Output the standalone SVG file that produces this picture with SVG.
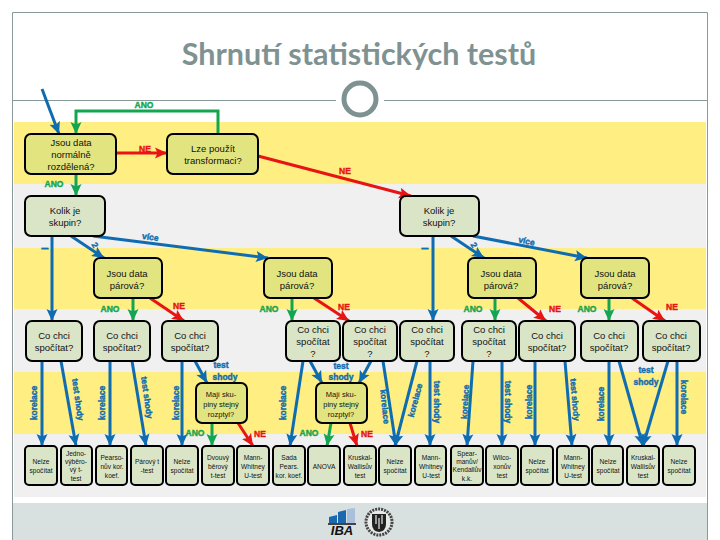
<svg xmlns="http://www.w3.org/2000/svg" width="720" height="540" viewBox="0 0 720 540">
<style>
.bl{stroke:#0f6cb0;stroke-width:3;fill:none;marker-end:url(#ab)}
.gr{stroke:#14a550;stroke-width:3;fill:none;marker-end:url(#ag)}
.rd{stroke:#e81414;stroke-width:3;fill:none;marker-end:url(#ar)}
.y{fill:#e2e57f;stroke:#000;stroke-width:2}
.g{fill:#dae5c8;stroke:#000;stroke-width:2}
text{font-family:"Liberation Sans",Arial,sans-serif;text-anchor:middle;fill:#111}
.t{font-size:9.5px}
.s{font-size:6.6px}
.m{font-size:7.5px}
.lb,.lg,.lr{font-size:8.5px;font-weight:bold;stroke-width:.4px}
.lb{fill:#0f6cb0;stroke:#0f6cb0}
.lg{fill:#14a550;stroke:#14a550}
.lr{fill:#e81414;stroke:#e81414}
.dash{font-size:14px}
</style>
<defs>
<marker id="ab" markerUnits="userSpaceOnUse" markerWidth="12" markerHeight="12" viewBox="0 0 12 12" refX="12" refY="6" orient="auto"><path d="M0,0.5L12,6L0,11.5L2.5,6z" fill="#0f6cb0"/></marker>
<marker id="ag" markerUnits="userSpaceOnUse" markerWidth="12" markerHeight="12" viewBox="0 0 12 12" refX="12" refY="6" orient="auto"><path d="M0,0.5L12,6L0,11.5L2.5,6z" fill="#14a550"/></marker>
<marker id="ar" markerUnits="userSpaceOnUse" markerWidth="12" markerHeight="12" viewBox="0 0 12 12" refX="12" refY="6" orient="auto"><path d="M0,0.5L12,6L0,11.5L2.5,6z" fill="#e81414"/></marker>
</defs>
<rect width="720" height="540" fill="#fff"/>
<g id="background">
<rect x="14" y="122" width="692" height="62" fill="#ffee82"/>
<rect x="14" y="184" width="692" height="64" fill="#f0f0f0"/>
<rect x="14" y="248" width="692" height="61" fill="#ffee82"/>
<rect x="14" y="309" width="692" height="63" fill="#f0f0f0"/>
<rect x="14" y="372" width="692" height="62" fill="#ffee82"/>
<rect x="14" y="434" width="692" height="63" fill="#f0f0f0"/>
<rect x="13" y="503" width="694" height="37" fill="#d8e0e0"/>
<path d="M12.5,540V12.5H707.5V540" fill="none" stroke="#8a9a9a" stroke-width="1"/>
<path d="M13,100.500H336M384,100.500H707" stroke="#8a9a9a" stroke-width="1"/>
<circle cx="360" cy="99" r="16" fill="#fff" stroke="#7f9292" stroke-width="5"/>
<text x="359" y="65" style="font-family:Lato,'Open Sans',sans-serif;font-size:30.500px;font-weight:700;fill:#7f9292">Shrnutí statistických testů</text>
</g>
<g id="connectors">
<path class="bl" d="M42,89L59,134"/>
<path class="gr" d="M218,134V111H76V134"/>
<path class="rd" d="M116,153H167"/>
<path class="rd" d="M258,156L411,196"/>
<path class="gr" d="M76,174V196"/>
<path class="bl" d="M52,236V321"/>
<path class="bl" d="M71,236L104,258"/>
<path class="bl" d="M93,236L268,258"/>
<path class="bl" d="M433,236V321"/>
<path class="bl" d="M451,236L484,258"/>
<path class="bl" d="M473,236L587,258"/>
<path class="gr" d="M133,298V321"/>
<path class="rd" d="M150,298L184,321"/>
<path class="gr" d="M292,298V321"/>
<path class="rd" d="M314,298L349,321"/>
<path class="gr" d="M495,298V321"/>
<path class="rd" d="M518,298L546,321"/>
<path class="gr" d="M609,298V321"/>
<path class="rd" d="M632,298L665,321"/>
<path class="bl" d="M42,361V446"/>
<path class="bl" d="M61,361L76,446"/>
<path class="bl" d="M110,361V446"/>
<path class="bl" d="M132,361L146,446"/>
<path class="bl" d="M182,361V446"/>
<path class="bl" d="M195,361L207,383"/>
<path class="bl" d="M303,361L290,446"/>
<path class="bl" d="M310,361L322,383"/>
<path class="bl" d="M371,361L359,383"/>
<path class="bl" d="M383,361L396,446"/>
<path class="bl" d="M417,361L395,446"/>
<path class="bl" d="M430,361V446"/>
<path class="bl" d="M473,361L467,446"/>
<path class="bl" d="M502,361V446"/>
<path class="bl" d="M535,361V446"/>
<path class="bl" d="M565,361L572,446"/>
<path class="bl" d="M609,361V446"/>
<path class="bl" d="M619,361L643,446"/>
<path class="bl" d="M668,361L643,446"/>
<path class="bl" d="M677,361V446"/>
<path class="gr" d="M212,423V446"/>
<path class="rd" d="M238,423L253,446"/>
<path class="gr" d="M331,423L327,446"/>
<path class="rd" d="M350,423L357,446"/>
</g>
<g id="n1"><rect class="y" x="25" y="134" width="91" height="40" rx="6"/><text class="t" x="71" y="146">Jsou data</text><text class="t" x="71" y="158">normálně</text><text class="t" x="71" y="170">rozdělená?</text></g>
<g id="n2"><rect class="y" x="167" y="134" width="91" height="40" rx="6"/><text class="t" x="213" y="152">Lze použít</text><text class="t" x="213" y="164">transformaci?</text></g>
<g id="k1"><rect class="g" x="25" y="196" width="80" height="40" rx="6"/><text class="t" x="65" y="214">Kolik je</text><text class="t" x="65" y="226">skupin?</text></g>
<g id="k2"><rect class="g" x="400" y="196" width="79" height="40" rx="6"/><text class="t" x="439" y="214">Kolik je</text><text class="t" x="439" y="226">skupin?</text></g>
<g id="p1"><rect class="y" x="94" y="258" width="68" height="40" rx="6"/><text class="t" x="127" y="277">Jsou data</text><text class="t" x="127" y="289">párová?</text></g>
<g id="p2"><rect class="y" x="264" y="258" width="68" height="40" rx="6"/><text class="t" x="297" y="277">Jsou data</text><text class="t" x="297" y="289">párová?</text></g>
<g id="p3"><rect class="y" x="468" y="258" width="68" height="40" rx="6"/><text class="t" x="501" y="277">Jsou data</text><text class="t" x="501" y="289">párová?</text></g>
<g id="p4"><rect class="y" x="581" y="258" width="68" height="40" rx="6"/><text class="t" x="615" y="277">Jsou data</text><text class="t" x="615" y="289">párová?</text></g>
<g id="c1"><rect class="g" x="26" y="321" width="56" height="40" rx="6"/><text class="t" x="54" y="339">Co chci</text><text class="t" x="54" y="351">spočítat?</text></g>
<g id="c2"><rect class="g" x="94" y="321" width="56" height="40" rx="6"/><text class="t" x="122" y="339">Co chci</text><text class="t" x="122" y="351">spočítat?</text></g>
<g id="c3"><rect class="g" x="162" y="321" width="56" height="40" rx="6"/><text class="t" x="190" y="339">Co chci</text><text class="t" x="190" y="351">spočítat?</text></g>
<g id="c4"><rect class="g" x="286" y="321" width="54" height="40" rx="6"/><text class="t" x="313" y="333">Co chci</text><text class="t" x="313" y="345">spočítat</text><text class="t" x="313" y="357">?</text></g>
<g id="c5"><rect class="g" x="343" y="321" width="54" height="40" rx="6"/><text class="t" x="370" y="333">Co chci</text><text class="t" x="370" y="345">spočítat</text><text class="t" x="370" y="357">?</text></g>
<g id="c6"><rect class="g" x="400" y="321" width="54" height="40" rx="6"/><text class="t" x="427" y="333">Co chci</text><text class="t" x="427" y="345">spočítat</text><text class="t" x="427" y="357">?</text></g>
<g id="c7"><rect class="g" x="462" y="321" width="54" height="40" rx="6"/><text class="t" x="489" y="333">Co chci</text><text class="t" x="489" y="345">spočítat</text><text class="t" x="489" y="357">?</text></g>
<g id="c8"><rect class="g" x="519" y="321" width="56" height="40" rx="6"/><text class="t" x="547" y="339">Co chci</text><text class="t" x="547" y="351">spočítat?</text></g>
<g id="c9"><rect class="g" x="581" y="321" width="57" height="40" rx="6"/><text class="t" x="609" y="339">Co chci</text><text class="t" x="609" y="351">spočítat?</text></g>
<g id="c10"><rect class="g" x="643" y="321" width="57" height="40" rx="6"/><text class="t" x="671" y="339">Co chci</text><text class="t" x="671" y="351">spočítat?</text></g>
<g id="m1"><rect class="y" x="196" y="383" width="51" height="40" rx="6"/><text class="m" x="221" y="397">Mají sku-</text><text class="m" x="221" y="407">piny stejný</text><text class="m" x="221" y="417">rozptyl?</text></g>
<g id="m2"><rect class="y" x="316" y="383" width="51" height="40" rx="6"/><text class="m" x="341" y="397">Mají sku-</text><text class="m" x="341" y="407">piny stejný</text><text class="m" x="341" y="417">rozptyl?</text></g>
<g id="l1"><rect class="g" x="25" y="446" width="32" height="39" rx="4"/><text class="s" x="41" y="464">Nelze</text><text class="s" x="41" y="473">spočítat</text></g>
<g id="l2"><rect class="g" x="61" y="446" width="31" height="39" rx="4"/><text class="s" x="76" y="456">Jedno-</text><text class="s" x="76" y="464">výběro-</text><text class="s" x="76" y="472">vý t-</text><text class="s" x="76" y="481">test</text></g>
<g id="l3"><rect class="g" x="96" y="446" width="31" height="39" rx="4"/><text class="s" x="112" y="460">Pearso-</text><text class="s" x="112" y="469">nův kor.</text><text class="s" x="112" y="478">koef.</text></g>
<g id="l4"><rect class="g" x="131" y="446" width="32" height="39" rx="4"/><text class="s" x="147" y="464">Párový t</text><text class="s" x="147" y="473">-test</text></g>
<g id="l5"><rect class="g" x="166" y="446" width="32" height="39" rx="4"/><text class="s" x="182" y="464">Nelze</text><text class="s" x="182" y="473">spočítat</text></g>
<g id="l6"><rect class="g" x="202" y="446" width="32" height="39" rx="4"/><text class="s" x="218" y="460">Dvouvý</text><text class="s" x="218" y="469">běrový</text><text class="s" x="218" y="478">t-test</text></g>
<g id="l7"><rect class="g" x="237" y="446" width="32" height="39" rx="4"/><text class="s" x="253" y="460">Mann-</text><text class="s" x="253" y="469">Whitney</text><text class="s" x="253" y="478">U-test</text></g>
<g id="l8"><rect class="g" x="273" y="446" width="32" height="39" rx="4"/><text class="s" x="289" y="460">Sada</text><text class="s" x="289" y="469">Pears.</text><text class="s" x="289" y="478">kor. koef.</text></g>
<g id="l9"><rect class="g" x="308" y="446" width="32" height="39" rx="4"/><text class="s" x="324" y="469">ANOVA</text></g>
<g id="l10"><rect class="g" x="344" y="446" width="32" height="39" rx="4"/><text class="s" x="360" y="460">Kruskal-</text><text class="s" x="360" y="469">Wallisův</text><text class="s" x="360" y="478">test</text></g>
<g id="l11"><rect class="g" x="379" y="446" width="32" height="39" rx="4"/><text class="s" x="395" y="464">Nelze</text><text class="s" x="395" y="473">spočítat</text></g>
<g id="l12"><rect class="g" x="415" y="446" width="31" height="39" rx="4"/><text class="s" x="431" y="460">Mann-</text><text class="s" x="431" y="469">Whitney</text><text class="s" x="431" y="478">U-test</text></g>
<g id="l13"><rect class="g" x="451" y="446" width="32" height="39" rx="4"/><text class="s" x="467" y="456">Spear-</text><text class="s" x="467" y="464">manův/</text><text class="s" x="467" y="472">Kendallův</text><text class="s" x="467" y="481">k.k.</text></g>
<g id="l14"><rect class="g" x="486" y="446" width="32" height="39" rx="4"/><text class="s" x="502" y="460">Wilco-</text><text class="s" x="502" y="469">xonův</text><text class="s" x="502" y="478">test</text></g>
<g id="l15"><rect class="g" x="521" y="446" width="32" height="39" rx="4"/><text class="s" x="537" y="464">Nelze</text><text class="s" x="537" y="473">spočítat</text></g>
<g id="l16"><rect class="g" x="557" y="446" width="32" height="39" rx="4"/><text class="s" x="573" y="460">Mann-</text><text class="s" x="573" y="469">Whitney</text><text class="s" x="573" y="478">U-test</text></g>
<g id="l17"><rect class="g" x="592" y="446" width="31" height="39" rx="4"/><text class="s" x="608" y="464">Nelze</text><text class="s" x="608" y="473">spočítat</text></g>
<g id="l18"><rect class="g" x="627" y="446" width="32" height="39" rx="4"/><text class="s" x="643" y="460">Kruskal-</text><text class="s" x="643" y="469">Wallisův</text><text class="s" x="643" y="478">test</text></g>
<g id="l19"><rect class="g" x="663" y="446" width="32" height="39" rx="4"/><text class="s" x="679" y="464">Nelze</text><text class="s" x="679" y="473">spočítat</text></g>
<g id="labels">
<text class="lg" x="144" y="108">ANO</text><text class="lr" x="145" y="152">NE</text><text class="lr" x="345" y="174">NE</text><text class="lg" x="54" y="187">ANO</text>
<text class="lb dash" x="45" y="253">–</text><text class="lb" transform="translate(92.500,246.500) rotate(60)">2</text><text class="lb" transform="translate(150,240) rotate(8)">více</text>
<text class="lb dash" x="425" y="253">–</text><text class="lb" transform="translate(471.500,246.500) rotate(60)">2</text><text class="lb" transform="translate(526,244) rotate(12)">více</text>
<text class="lg" x="110" y="312">ANO</text><text class="lr" x="179" y="309">NE</text><text class="lg" x="269" y="312">ANO</text><text class="lr" x="344" y="310">NE</text>
<text class="lg" x="473" y="312">ANO</text><text class="lr" x="555" y="312">NE</text><text class="lg" x="587" y="312">ANO</text><text class="lr" x="672" y="310">NE</text>
<text class="lb" transform="translate(37,403) rotate(-90)">korelace</text>
<text class="lb" transform="translate(75,400) rotate(82)">test shody</text>
<text class="lb" transform="translate(105,403) rotate(-90)">korelace</text>
<text class="lb" transform="translate(144,398) rotate(82)">test shody</text>
<text class="lb" transform="translate(179,403) rotate(-90)">korelace</text>
<text class="lb" x="221" y="368">test</text><text class="lb" x="225" y="380">shody</text>
<text class="lb" transform="translate(286,403) rotate(-90)">korelace</text>
<text class="lb" x="341" y="369">test</text><text class="lb" x="341" y="380">shody</text>
<text class="lb" transform="translate(382,407) rotate(84)">korelace</text>
<text class="lb" transform="translate(418,401) rotate(-75)">korelace</text>
<text class="lb" transform="translate(434,402) rotate(90)">test shody</text>
<text class="lb" transform="translate(468,402) rotate(-87)">korelace</text>
<text class="lb" transform="translate(505,402) rotate(90)">test shody</text>
<text class="lb" transform="translate(532,402) rotate(-90)">korelace</text>
<text class="lb" transform="translate(572,400) rotate(85)">test shody</text>
<text class="lb" transform="translate(604,404) rotate(-90)">korelace</text>
<text class="lb" x="646" y="373">test</text><text class="lb" x="646" y="385">shody</text>
<text class="lb" transform="translate(681,397) rotate(90)">korelace</text>
<text class="lg" x="195" y="436">ANO</text><text class="lr" x="260" y="437">NE</text><text class="lg" x="309" y="436">ANO</text><text class="lr" x="367" y="437">NE</text>
</g>
<g id="logo">
<path d="M329,523V517L337,515V523zM338,523V512L346,510V523z" fill="#1a68b0"/>
<path d="M347,523V509L355,508V523z" fill="#a9bfdc"/>
<path d="M328,524H356" stroke="#111" stroke-width="1.500"/>
<text x="342" y="535" style="font-size:13px;font-weight:bold;font-style:italic;fill:#111">IBA</text>
<circle cx="379" cy="522" r="13" fill="#e6ebe8" stroke="#444" stroke-width="3" stroke-dasharray="2 1"/>
<path d="M372,514H386V524Q386,531 379,532Q372,531 372,524z" fill="#222"/>
<path d="M376,515V524M379,518V529M382,515V524" stroke="#e6ebe8" stroke-width="1.200"/>
</g>
</svg>
